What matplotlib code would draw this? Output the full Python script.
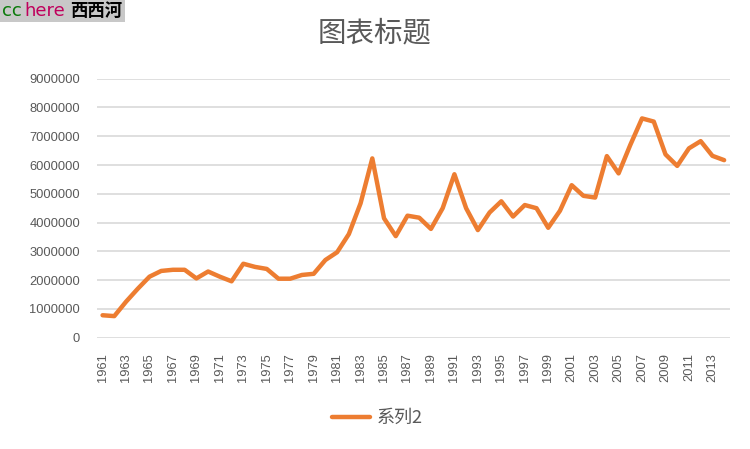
import matplotlib
matplotlib.use("Agg")
import matplotlib.pyplot as plt
import matplotlib.patches as mpatches
import numpy as np

plt.rcParams['font.family'] = ['Liberation Sans', 'Noto Sans CJK SC', 'DejaVu Sans']

# données
annees = list(range(1961, 2015))
valeurs = [780000, 750000, 1250000, 1700000, 2120000, 2320000, 2360000, 2360000,
           2060000, 2300000, 2120000, 1960000, 2570000, 2460000, 2390000, 2050000,
           2050000, 2180000, 2220000, 2700000, 2970000, 3600000, 4670000, 6230000,
           4150000, 3530000, 4240000, 4170000, 3780000, 4500000, 5680000, 4500000,
           3740000, 4350000, 4740000, 4210000, 4610000, 4500000, 3820000, 4410000,
           5300000, 4930000, 4870000, 6310000, 5710000, 6700000, 7620000, 7510000,
           6370000, 5970000, 6580000, 6830000, 6320000, 6170000]
y_ticks = list(range(0, 9000001, 1000000))
titre = "图表标题"
nom_serie = "系列2"

gris = '#595959'
orange = '#ED7D31'

fig = plt.figure(figsize=(7.5, 4.49), dpi=100)
ax = fig.add_axes([96.7/750, 1-337.7/449, (730-96.7)/750, (337.7-78.7)/449])

x = np.arange(len(annees))
ax.plot(x, valeurs, color=orange, linewidth=3.2, solid_joinstyle='round',
        solid_capstyle='round', label=nom_serie)

ax.set_xlim(-0.5, len(annees) - 0.5)
ax.set_ylim(0, 9000000)
ax.set_yticks(y_ticks)
ax.set_yticklabels([str(v) for v in y_ticks], fontsize=9.3, color=gris)
ax.set_xticks(x[::2])
ax.set_xticklabels([str(a) for a in annees[::2]], rotation=90, fontsize=9.3, color=gris)
ax.tick_params(axis='both', length=0)
ax.tick_params(axis='y', pad=12)
ax.tick_params(axis='x', pad=11)

ax.grid(axis='y', color='#D9D9D9', linewidth=1.2)
ax.set_axisbelow(True)
for s in ax.spines.values():
    s.set_visible(False)

fig.text(0.5, 1-33/449, titre, ha='center', va='center', fontsize=20.5,
         color=gris, family=['Noto Sans CJK SC', 'DejaVu Sans'])

leg = fig.legend(loc='center', bbox_to_anchor=(377.5/750, 1-418/449), frameon=False,
                 handlelength=2.1, handletextpad=0.4,
                 prop={'family': ['Noto Sans CJK SC', 'DejaVu Sans'], 'size': 13})
for t in leg.get_texts():
    t.set_color(gris)

# watermark en haut à gauche
fig.patches.append(mpatches.Rectangle((0, 1-22/449), 125/750, 22/449,
                                      transform=fig.transFigure, facecolor='#C8C8C8',
                                      edgecolor='none'))
fig.text(2/750, 1-11/449, "cc", color='#0A7A0A', fontsize=13, va='center',
         family=['DejaVu Sans'])
fig.text(24/750, 1-11/449, "here", color='#C0005C', fontsize=13, va='center',
         family=['DejaVu Sans'])
fig.text(70/750, 1-11/449, "西西河", color='black', fontsize=12.5, va='center',
         fontweight='bold', family=['Noto Sans CJK SC', 'DejaVu Sans'])

fig.savefig('out.png', dpi=100)
